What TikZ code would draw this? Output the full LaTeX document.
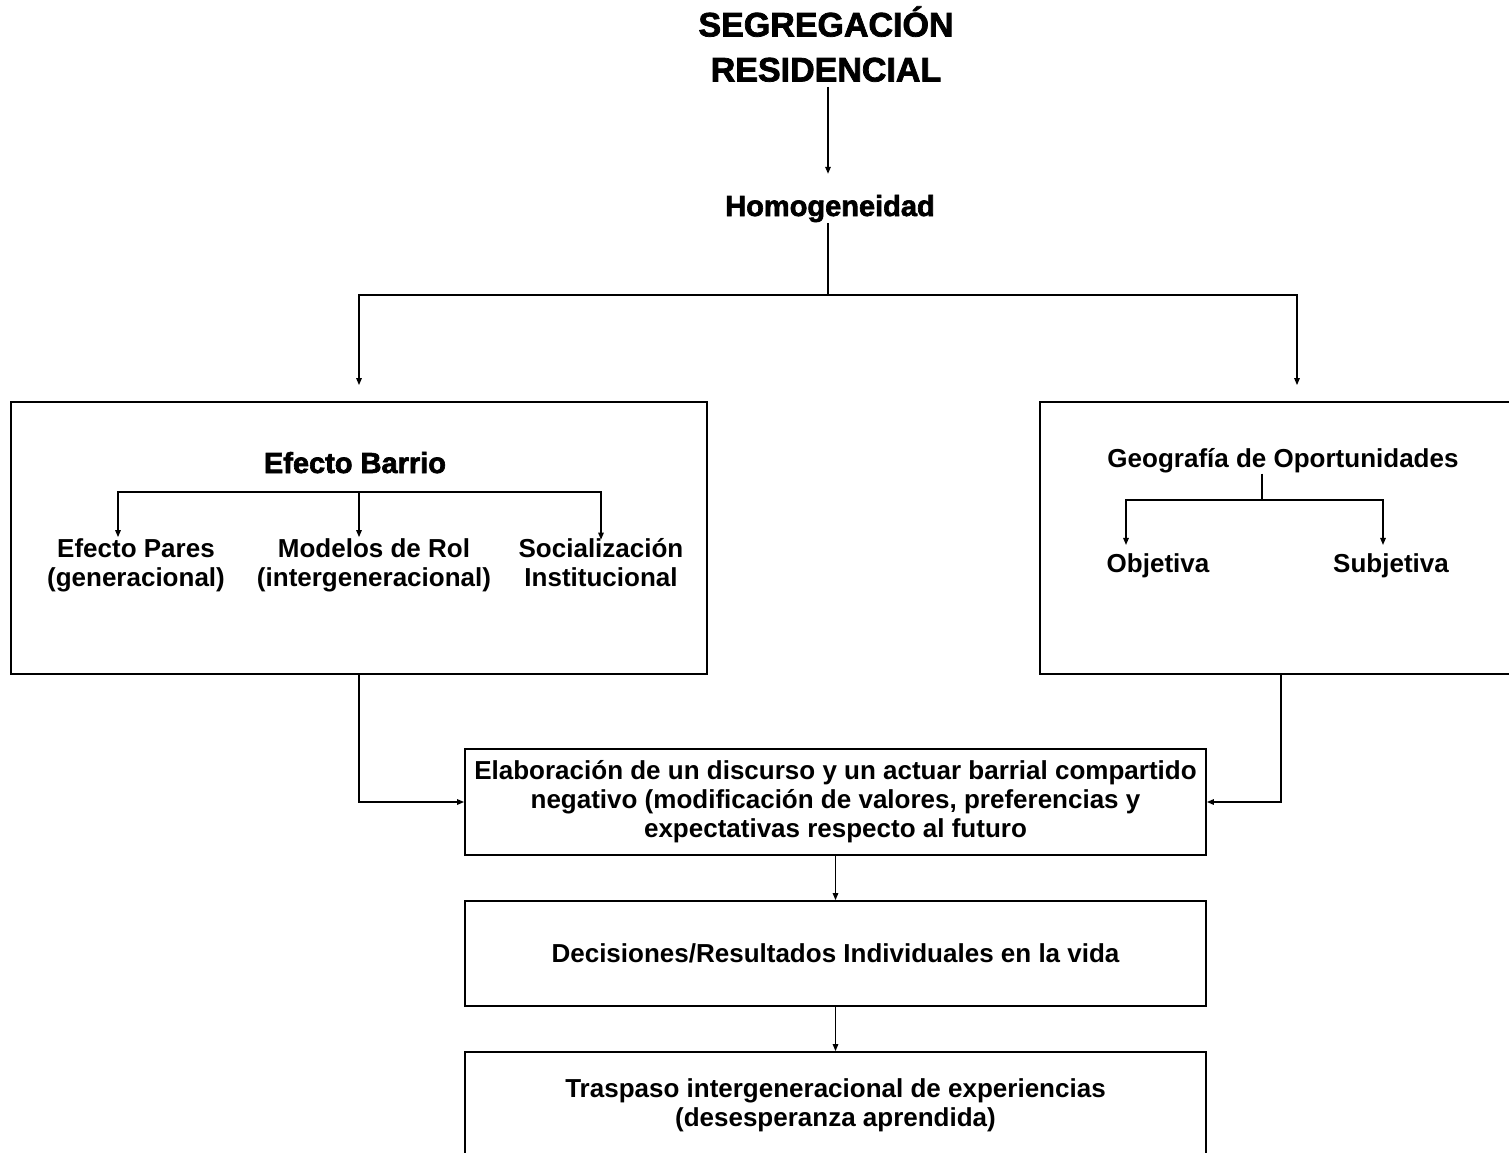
\documentclass[tikz,border=0pt]{standalone}
\usepackage{fontspec}
\setmainfont{Liberation Sans}
\newfontfamily\heavyfont{Liberation Sans}[UprightFont=*-Bold,FakeBold=2.2]
\usetikzlibrary{arrows.meta}
\begin{document}
\begin{tikzpicture}[x=1pt,y=-1pt,
  conn/.style={line width=1.4pt},
  arr/.style={conn,-{Triangle[length=7pt,width=5.5pt]}},
  box/.style={draw,line width=1.8pt,rectangle,inner sep=0pt,align=center,
    font=\fontsize{26}{29}\selectfont\bfseries},
  lbl/.style={font=\fontsize{26}{29}\selectfont\bfseries,align=center,inner sep=1pt},
  heavy/.style={font=\fontsize{29}{32}\selectfont\heavyfont,inner sep=1pt},
  ttl/.style={font=\fontsize{34}{45}\selectfont\heavyfont,align=center,inner sep=0pt}]
\useasboundingbox (0,0) rectangle (1509,1153);

% title and first level
\node[ttl,anchor=south] (title) at (826,82) {SEGREGACIÓN\\RESIDENCIAL};
\node[heavy,anchor=base] (homog) at (830,216) {Homogeneidad};
\coordinate (hj) at (828,295);

% big boxes
\node[box,minimum width=696pt,minimum height=272pt] (ebox) at (359,538) {};
\node[box,minimum width=482pt,minimum height=272pt] (gbox) at (1281,538) {};

% Efecto Barrio contents
\node[heavy,anchor=base] (eb) at (355,473) {Efecto Barrio};
\coordinate (ebj) at (359,492);
\node[lbl] (ep) at (136,565) {Efecto Pares\\(generacional)};
\node[lbl] (mr) at (374,565) {Modelos de Rol\\(intergeneracional)};
\node[lbl] (si) at (601,563) {Socialización\\Institucional};

% Geografia contents
\node[lbl,anchor=base] (geo) at (1283,467) {Geografía de Oportunidades};
\coordinate (gj) at (1262,500);
\node[lbl,anchor=base] (obj) at (1158,572) {Objetiva};
\node[lbl,anchor=base] (sub) at (1391,572) {Subjetiva};

% lower boxes
\node[box,minimum width=741pt,minimum height=106pt] (elab) at (835.5,802)
  {Elaboración de un discurso y un actuar barrial compartido\\negativo (modificación de valores, preferencias y\\expectativas respecto al futuro};
\node[box,minimum width=741pt,minimum height=105pt] (dec) at (835.5,953.5)
  {Decisiones/Resultados Individuales en la vida};
\node[box,minimum width=741pt,minimum height=106pt] (tra) at (835.5,1105)
  {Traspaso intergeneracional de experiencias\\(desesperanza aprendida)};

% connectors
\draw[arr,shorten <=5pt,shorten >=20pt] ([xshift=2pt]title.south) -- ([xshift=2pt]title.south |- homog.north);
\draw[conn] (homog.south -| hj) -- (hj);
\draw[arr] (hj) -| ([yshift=16pt]ebox.north);
\draw[arr] (hj) -| ([xshift=16pt,yshift=16pt]gbox.north);

\draw[arr] (ebj) -| ([xshift=-18pt]ep.north);
\draw[arr] (ebj) -- (ebj |- mr.north);
\draw[arr] (ebj) -| ([yshift=-2pt]si.north);

\draw[conn] ([xshift=-21pt]geo.south) -- (gj);
\draw[arr,shorten >=7pt] (gj) -| ([xshift=-32pt]obj.north);
\draw[arr,shorten >=7pt] (gj) -| ([xshift=-8pt]sub.north);

\draw[arr] (ebox.south) |- (elab.west);
\draw[arr] (gbox.south) |- (elab.east);
\draw[arr] (elab.south) -- (dec.north);
\draw[arr] (dec.south) -- (tra.north);
\end{tikzpicture}
\end{document}
